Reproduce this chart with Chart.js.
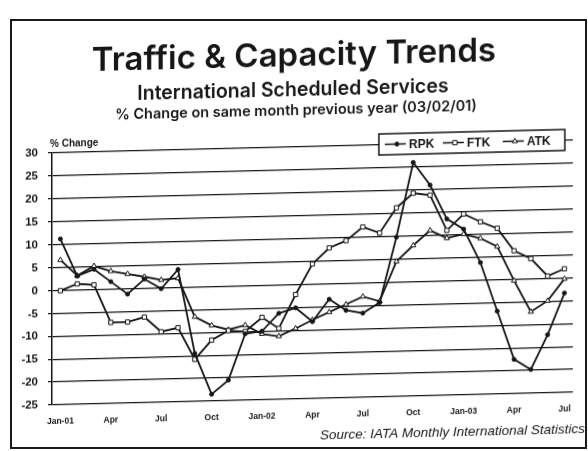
<!DOCTYPE html>
<html>
<head>
<meta charset="utf-8">
<script src="https://cdn.jsdelivr.net/npm/chart.js@4"></script>
<style>
  html, body { margin: 0; padding: 0; background: #fff; overflow: hidden; }
  #frame {
    position: absolute; left: 10px; top: 19px; width: 573px; height: 426px;
    border: 2px solid #1a1a1a;
  }
  #sheet {
    position: absolute; left: 0; top: 0; width: 588px; height: 451px;
    transform: skewY(-1.4deg); transform-origin: 52px 0;
  }
</style>
</head>
<body>
<div id="frame"></div>
<div id="sheet"><canvas id="trends" width="588" height="451"></canvas></div>
<script>
// Monthly % change on same month previous year, Jan-01 .. Jul-03
const months = ['Jan-01', 'Feb', 'Mar', 'Apr', 'May', 'Jun', 'Jul', 'Aug', 'Sep', 'Oct', 'Nov', 'Dec',
                'Jan-02', 'Feb', 'Mar', 'Apr', 'May', 'Jun', 'Jul', 'Aug', 'Sep', 'Oct', 'Nov', 'Dec',
                'Jan-03', 'Feb', 'Mar', 'Apr', 'May', 'Jun', 'Jul'];
const rpk = [11.2, 3.0, 4.4, 1.6, -1.2, 2.0, -0.2, 3.9, -14.5, -23.5, -20.5, -10.5,
             -10.0, -6.2, -5.1, -8.2, -3.4, -5.9, -6.6, -4.4, 9.8, 26.0, 21.0, 13.5,
             11.2, 3.8, -6.9, -17.5, -19.8, -12.3, -3.3];
const ftk = [-0.1, 1.3, 1.0, -7.3, -7.3, -6.3, -9.6, -8.8, -15.8, -11.7, -9.7, -10.0,
             -7.0, -9.5, -2.2, 4.4, 7.8, 9.3, 12.2, 10.8, 16.2, 19.3, 18.8, 11.0,
             14.5, 12.7, 11.2, 6.2, 4.4, 0.5, 2.0];
const atk = [6.6, 3.1, 5.1, 3.9, 3.2, 2.5, 1.7, 2.0, -6.5, -8.5, -9.5, -8.6,
             -10.6, -11.2, -9.6, -7.8, -6.2, -4.6, -3.0, -4.1, 4.5, 7.9, 11.1, 9.3,
             10.1, 9.1, 7.2, -0.3, -7.2, -4.9, -0.2];

const INK = '#161616';

function series(label, data, pointStyle, fill, radius) {
    return {
        label: label,
        data: data,
        borderColor: INK,
        borderWidth: 1.8,
        pointStyle: pointStyle,
        pointRadius: radius,
        pointBackgroundColor: fill,
        pointBorderColor: INK,
        pointBorderWidth: 1,
        tension: 0
    };
}

// Titles, axis caption, boxed legend and source line
const decorations = {
    id: 'decorations',
    afterDraw(chart) {
        const ctx = chart.ctx;
        ctx.save();
        ctx.fillStyle = INK;
        ctx.textBaseline = 'alphabetic';

        ctx.textAlign = 'center';
        ctx.font = '600 33px Inter';
        ctx.fillText('Traffic & Capacity Trends', 294, 72);
        ctx.font = '600 19.5px Inter';
        ctx.fillText('International Scheduled Services', 293, 102);
        ctx.font = '600 14.5px Inter';
        ctx.fillText('% Change on same month previous year (03/02/01)', 296, 121);

        ctx.textAlign = 'left';
        ctx.font = 'bold 10px "Liberation Sans"';
        ctx.fillText('% Change', 50, 147);

        // legend box
        const box = { x: 379, y: 142, w: 186, h: 21 };
        ctx.fillStyle = '#fff';
        ctx.fillRect(box.x, box.y, box.w, box.h);
        ctx.strokeStyle = INK;
        ctx.lineWidth = 1.5;
        ctx.strokeRect(box.x, box.y, box.w, box.h);
        const midY = box.y + box.h / 2;
        const starts = [385, 443, 503];
        ctx.font = 'bold 12px "Liberation Sans"';
        chart.data.datasets.forEach((ds, i) => {
            const x0 = starts[i];
            ctx.strokeStyle = INK;
            ctx.lineWidth = 1.5;
            ctx.beginPath();
            ctx.moveTo(x0, midY);
            ctx.lineTo(x0 + 21, midY);
            ctx.stroke();
            ctx.fillStyle = ds.pointBackgroundColor;
            ctx.lineWidth = 1;
            Chart.helpers.drawPoint(ctx, {
                pointStyle: ds.pointStyle, radius: ds.pointRadius, borderWidth: 1, rotation: 0
            }, x0 + 12, midY);
            ctx.fillStyle = INK;
            ctx.fillText(ds.label, x0 + 24, midY + 4.5);
        });

        ctx.textAlign = 'right';
        ctx.font = 'italic 13.5px "Liberation Sans"';
        ctx.fillText('Source: IATA Monthly International Statistics', 585, 446);
        ctx.restore();
    }
};

new Chart(document.getElementById('trends'), {
    type: 'line',
    data: {
        labels: months,
        datasets: [
            series('RPK', rpk, 'circle', INK, 2),
            series('FTK', ftk, 'rect', '#fff', 3),
            series('ATK', atk, 'triangle', '#fff', 3)
        ]
    },
    options: {
        responsive: false,
        animation: false,
        devicePixelRatio: 1,
        layout: { padding: { left: 10, right: 15, top: 153, bottom: 0 } },
        plugins: {
            legend: { display: false },
            title: { display: false },
            tooltip: { enabled: false }
        },
        scales: {
            x: {
                offset: true,
                grid: { display: false },
                border: { display: false },
                afterFit: scale => { scale.height = 46; },
                ticks: {
                    autoSkip: false,
                    maxRotation: 0,
                    padding: 4,
                    color: INK,
                    font: { family: 'Liberation Sans', size: 8.5, weight: 'bold' },
                    callback: (value, i) => (i % 3 === 0 ? months[i] : '')
                }
            },
            y: {
                min: -25,
                max: 30,
                afterFit: scale => { scale.width = 42; },
                grid: { color: INK, lineWidth: 1.2, tickLength: 4 },
                border: { display: true, color: INK, width: 1.5 },
                ticks: {
                    stepSize: 5,
                    padding: 10,
                    color: INK,
                    font: { family: 'Liberation Sans', size: 11.5, weight: 'bold' }
                }
            }
        }
    },
    plugins: [decorations]
});
</script>
</body>
</html>
